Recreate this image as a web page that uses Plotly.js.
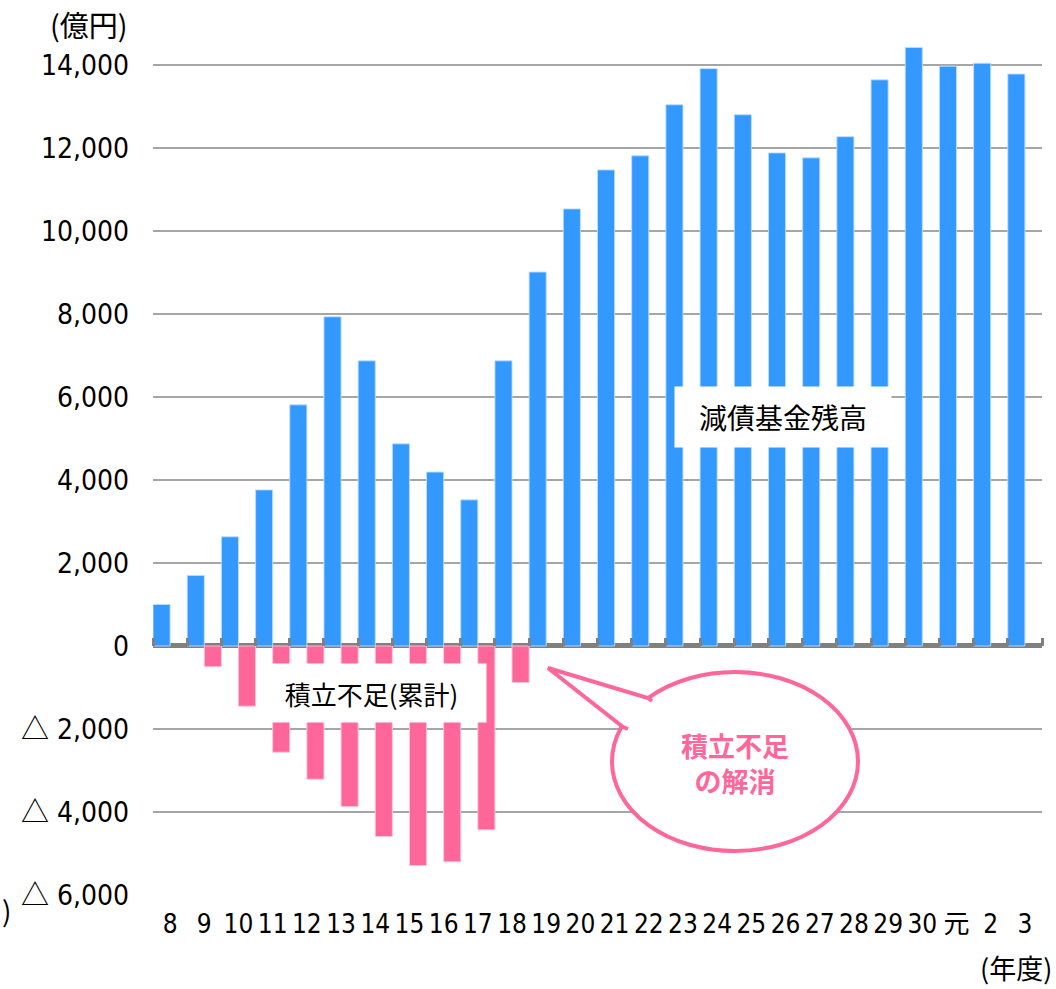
<!DOCTYPE html>
<html>
<head>
<meta charset="utf-8">
<script src="https://cdn.plot.ly/plotly-3.0.1.min.js"></script>
<style>html,body{margin:0;padding:0;background:#fff;}#chart{width:1056px;height:989px;}</style>
</head>
<body>
<div id="chart"></div>
<script>
// Fiscal years (平成8 … 30, 令和元, 2, 3)
const years = ["8","9","10","11","12","13","14","15","16","17","18","19","20","21","22","23","24","25","26","27","28","29","30","元","2","3"];
// 減債基金残高 (億円)
const fundBalance = [1000,1700,2630,3760,5810,7930,6870,4870,4190,3520,6870,9010,10530,11470,11810,13040,13910,12800,11880,11760,12270,13640,14420,13970,14040,13780];
// 積立不足（累計） (億円)
const shortfall = [null,-500,-1450,-2560,-3210,-3870,-4590,-5290,-5200,-4430,-880,null,null,null,null,null,null,null,null,null,null,null,null,null,null,null];
// y-axis ticks
const yTickVals = [-6000,-4000,-2000,0,2000,4000,6000,8000,10000,12000,14000];
const yTickNums = ["6,000","4,000","2,000","0","2,000","4,000","6,000","8,000","10,000","12,000","14,000"];
const yRange = [-6000, 14600];

// plot-area pixel box
const L = 153, R = 1042, T = 40, B = 895;
const px = x => (x - L) / (R - L);
const py = y => (B - y) / (B - T);

const numFont = "DejaVu Sans Condensed, Noto Sans CJK JP, sans-serif";
const cjkFont = "Noto Sans CJK JP, sans-serif";
const BLUE = "#3399FF", PINK = "#FF6699";

const yTickText = yTickVals.map((v, i) =>
  v < 0 ? '<span style="font-family:Noto Sans CJK JP">△</span> ' + yTickNums[i] : yTickNums[i]);

const traces = [
  {type:"bar", x:years, y:fundBalance, name:"減債基金残高",
   marker:{color:BLUE, line:{color:"rgba(190,220,255,0.9)", width:1}}, hoverinfo:"x+y"},
  {type:"bar", x:years, y:shortfall, name:"積立不足（累計）",
   marker:{color:PINK, line:{color:"rgba(255,200,220,0.9)", width:1}}, hoverinfo:"x+y"},
  {type:"scatter", x:years, y:fundBalance, xaxis:"x2", yaxis:"y", mode:"none",
   hoverinfo:"skip", showlegend:false}
];

const layout = {
  width:1056, height:989,
  margin:{l:L, r:1056-R, t:T, b:989-B, pad:0},
  paper_bgcolor:"#fff", plot_bgcolor:"#fff",
  showlegend:false,
  barmode:"group", bargap:0, bargroupgap:0,
  xaxis:{type:"category", categoryorder:"array", categoryarray:years,
    range:[-0.5, years.length-0.5], showgrid:false, zeroline:false, showline:false,
    tickmode:"array", tickvals:years, ticktext:years,
    ticks:"", tickfont:{family:numFont, size:26, color:"#000"}, ticklabelstandoff:11,
    fixedrange:true},
  xaxis2:{type:"category", categoryorder:"array", categoryarray:years,
    range:[-0.5, years.length-0.5], overlaying:"x", anchor:"free", side:"top",
    position:(0 - yRange[0])/(yRange[1]-yRange[0]),
    tickson:"boundaries", ticks:"outside", ticklen:8, tickwidth:3, tickcolor:"#808080",
    showticklabels:false, showgrid:false, zeroline:false, showline:false},
  yaxis:{range:yRange, tickmode:"array", tickvals:yTickVals, ticktext:yTickText,
    showgrid:true, gridcolor:"#A6A6A6", gridwidth:1.5,
    zeroline:true, zerolinecolor:"#808080", zerolinewidth:5,
    showline:false, ticks:"", tickfont:{family:numFont, size:28, color:"#000"},
    ticklabelstandoff:23, fixedrange:true},
  shapes:[
    {type:"circle", xref:"paper", yref:"paper", layer:"above",
     x0:px(612), x1:px(858), y0:py(851), y1:py(672),
     fillcolor:"#fff", line:{color:PINK, width:4}},
    {type:"path", xref:"paper", yref:"paper", layer:"above",
     path:`M${px(652)},${py(701)} L${px(648)},${py(698)} L${px(548)},${py(668)} L${px(623)},${py(727)} L${px(628)},${py(729)}`,
     fillcolor:"#fff", line:{color:PINK, width:4}}
  ],
  annotations:[
    {xref:"paper", yref:"paper", x:px(783), y:py(417), xanchor:"center", yanchor:"middle",
     text:"減債基金残高", showarrow:false, bgcolor:"#fff", width:214, height:58,
     font:{family:cjkFont, size:28, color:"#000"}},
    {xref:"paper", yref:"paper", x:px(371.5), y:py(693), xanchor:"center", yanchor:"middle",
     text:"積立不足(累計)", showarrow:false, bgcolor:"#fff", width:227, height:56,
     font:{family:cjkFont, size:26, color:"#000"}},
    {xref:"paper", yref:"paper", x:px(735), y:py(763), xanchor:"center", yanchor:"middle",
     text:"<b>積立不足</b><br><b>の解消</b>", showarrow:false,
     font:{family:cjkFont, size:27, color:PINK}},
    {xref:"paper", yref:"paper", x:px(89), y:py(24), xanchor:"center", yanchor:"middle",
     text:"(億円)", showarrow:false, font:{family:cjkFont, size:29, color:"#000"}},
    {xref:"paper", yref:"paper", x:px(1054), y:py(967), xanchor:"right", yanchor:"middle",
     text:"(年度)", showarrow:false, font:{family:cjkFont, size:27, color:"#000"}},
    {xref:"paper", yref:"paper", x:px(0), y:py(910), xanchor:"left", yanchor:"middle",
     text:")", showarrow:false, font:{family:cjkFont, size:28, color:"#000"}}
  ]
};

Plotly.newPlot("chart", traces, layout, {displayModeBar:false, staticPlot:true});
</script>
</body>
</html>
